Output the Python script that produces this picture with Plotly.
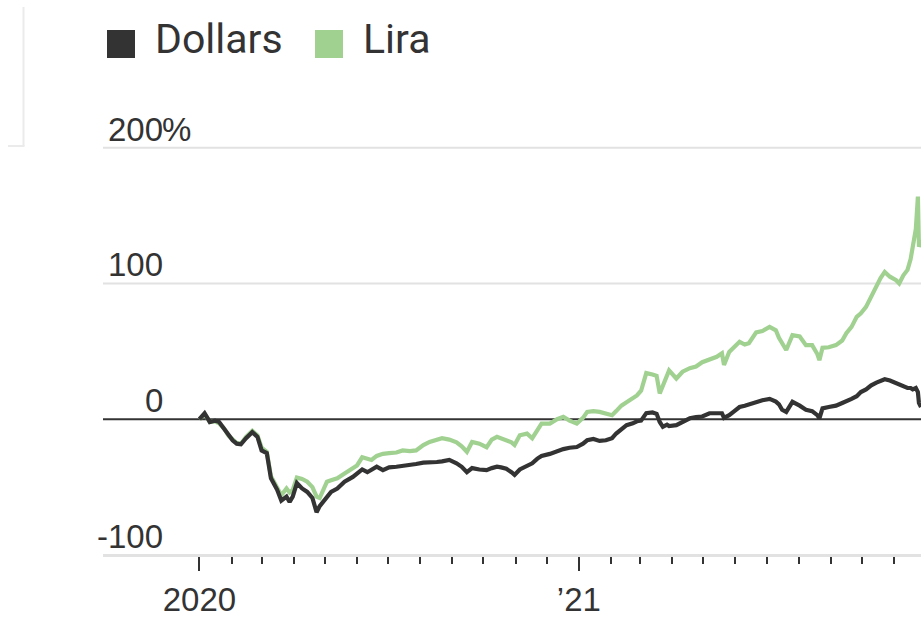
import plotly.graph_objects as go
import pandas as pd

dates = [
    "2020-01-01", "2020-01-06", "2020-01-11", "2020-01-16", "2020-01-20", "2020-01-25", "2020-01-29",
    "2020-02-02", "2020-02-06", "2020-02-10", "2020-02-15", "2020-02-21", "2020-02-26", "2020-03-01",
    "2020-03-06", "2020-03-10", "2020-03-16", "2020-03-20", "2020-03-25", "2020-03-28", "2020-03-31",
    "2020-04-04", "2020-04-09", "2020-04-14", "2020-04-19", "2020-04-23", "2020-04-26", "2020-04-28",
    "2020-05-03", "2020-05-07", "2020-05-13", "2020-05-20", "2020-05-28", "2020-06-01", "2020-06-06",
    "2020-06-11", "2020-06-15", "2020-06-20", "2020-06-26", "2020-07-02", "2020-07-09", "2020-07-15",
    "2020-07-22", "2020-07-28", "2020-08-04", "2020-08-10", "2020-08-17", "2020-08-22", "2020-08-29",
    "2020-09-05", "2020-09-10", "2020-09-15", "2020-09-20", "2020-09-27", "2020-10-04", "2020-10-09",
    "2020-10-14", "2020-10-18", "2020-10-23", "2020-10-28", "2020-10-31", "2020-11-05", "2020-11-12",
    "2020-11-17", "2020-11-22", "2020-11-26", "2020-12-04", "2020-12-11", "2020-12-17", "2020-12-23",
    "2020-12-30",
    "2021-01-05", "2021-01-09", "2021-01-15", "2021-01-21", "2021-01-27", "2021-02-02", "2021-02-06",
    "2021-02-11", "2021-02-16", "2021-02-22", "2021-02-26", "2021-03-02", "2021-03-07", "2021-03-13",
    "2021-03-17", "2021-03-20", "2021-03-23", "2021-03-27", "2021-03-29", "2021-04-05", "2021-04-11",
    "2021-04-18", "2021-04-24", "2021-04-30", "2021-05-07", "2021-05-14", "2021-05-19", "2021-05-21",
    "2021-05-26", "2021-05-31", "2021-06-05", "2021-06-10", "2021-06-14", "2021-06-21", "2021-06-27",
    "2021-07-04", "2021-07-10", "2021-07-13", "2021-07-16", "2021-07-20", "2021-07-26", "2021-08-02",
    "2021-08-08", "2021-08-14", "2021-08-19", "2021-08-21", "2021-08-24", "2021-08-30", "2021-09-06",
    "2021-09-12", "2021-09-16", "2021-09-21", "2021-09-26", "2021-09-30", "2021-10-05", "2021-10-10",
    "2021-10-15", "2021-10-19", "2021-10-23", "2021-10-28", "2021-11-03", "2021-11-06", "2021-11-10",
    "2021-11-14", "2021-11-17", "2021-11-19", "2021-11-22", "2021-11-24", "2021-11-25", "2021-11-27",
]

dollars = [
    0, 4.4, -2, -1, -2, -7, -12,
    -15.5, -18, -18.5, -14, -9.5, -13, -23,
    -25, -43.5, -52, -60, -57, -61, -57,
    -47, -51, -53.5, -58, -68.5, -64, -62,
    -57, -53.5, -51, -46, -42.5, -40, -37,
    -39, -37, -35, -37.5, -35.5, -35, -34.5,
    -34, -33, -32, -32, -31.5, -31, -30,
    -32.5, -35, -39, -36, -37, -37.5, -36,
    -35, -35.5, -36.5, -39, -41, -37, -34,
    -32.5, -29, -27, -25.5, -23.5, -22, -21,
    -20.5,
    -18, -15.5, -14.5, -16, -15.5, -14, -10.5,
    -7, -4.4, -3, -1.5, -1, 4.5, 5,
    4, -2, -5.6, -4, -5, -4.4, -2,
    0.7, 1.5, 2, 4.4, 4.4, 4.4, 1,
    3, 6, 9, 10, 11, 12.8, 14,
    15, 13, 11, 7, 5.4, 12.8, 10,
    7, 6, 3, 0.7, 8, 9, 10,
    12, 13, 15, 17, 20, 22, 25,
    27, 28.5, 29.5, 28.5, 26.5, 25, 24,
    23, 23, 22, 23, 20, 12, 9,
]

lira = [
    0, 4, -2, -1.5, -3, -7, -12,
    -15, -17.5, -18, -13, -8.5, -12, -21,
    -24, -42, -50, -56, -51, -54, -52,
    -43, -44, -46, -50, -57, -58, -54,
    -46, -45, -43.5, -40, -35.5, -34, -28,
    -29.5, -30, -27, -25.5, -25, -24.5, -23,
    -23.5, -23, -19, -16.7, -15, -14, -15,
    -17, -20, -24, -16.7, -18, -20.6, -15,
    -13, -14, -15.5, -17, -19, -11.8, -10.6,
    -14, -8, -3.2, -3.2, 0, 1.7, -1,
    -3.2,
    1, 5.4, 6, 5.4, 4, 3, 6,
    10, 12.5, 15.5, 17.5, 21, 34, 33,
    32, 19, 25, 32, 36, 30, 35,
    37.6, 38.8, 42, 44, 46, 48.6, 40,
    49.6, 53, 57, 55, 56, 64, 65,
    68, 65.5, 60, 56, 51, 62, 61,
    54.6, 54.6, 48, 43.5, 52.6, 53, 54.6,
    58, 63.4, 68, 75.4, 78, 82.8, 90,
    98.7, 104, 108.5, 105, 102.4, 100, 106,
    110, 118, 127, 140, 164, 127, 132,
]

y_ticks = [200, 100, 0, -100]
y_tick_text = ["200", "100", "0", "-100"]
x_tick_vals = ["2020-01-01", "2021-01-01"]
x_tick_text = ["2020", "\u201921"]
month_ticks = [d.strftime("%Y-%m-%d") for d in pd.date_range("2020-02-01", "2021-11-01", freq="MS")]

DARK = "#333333"
GREEN = "#a0d191"
TEXT = "#333333"
FONT = "Liberation Sans, Arial, sans-serif"

# pixel layout helpers
W, H = 921, 617
L, R, T, B = 103, 0, 145, 62
PW = W - L - R
PH = H - T - B


def px_x(px):
    return (px - L) / PW


def px_y(py):
    return (H - B - py) / PH


fig = go.Figure()
fig.add_trace(go.Scatter(x=dates, y=lira, mode="lines", name="Lira",
                         line=dict(color=GREEN, width=4.2), hoverinfo="skip"))
fig.add_trace(go.Scatter(x=dates, y=dollars, mode="lines", name="Dollars",
                         line=dict(color=DARK, width=4.2), hoverinfo="skip"))

shapes = []
for v in y_ticks:
    if v == 0:
        continue
    shapes.append(dict(type="line", xref="paper", yref="y", x0=0, x1=1, y0=v, y1=v,
                       line=dict(color="#e2e2e2", width=2), layer="below"))
shapes.append(dict(type="line", xref="paper", yref="y", x0=0, x1=1, y0=0, y1=0,
                   line=dict(color="#333333", width=2), layer="below"))
# stray frame lines at top-left
shapes.append(dict(type="line", xref="paper", yref="paper", x0=px_x(23.5), x1=px_x(23.5),
                   y0=px_y(7), y1=px_y(146), line=dict(color="#ebebeb", width=2)))
shapes.append(dict(type="line", xref="paper", yref="paper", x0=px_x(8), x1=px_x(24.5),
                   y0=px_y(146), y1=px_y(146), line=dict(color="#ebebeb", width=2)))
# legend squares
for (x0, x1, col) in [(107, 135, DARK), (315, 343, GREEN)]:
    shapes.append(dict(type="rect", xref="paper", yref="paper", x0=px_x(x0), x1=px_x(x1),
                       y0=px_y(58), y1=px_y(30), fillcolor=col, line=dict(width=0)))

annotations = []
for (txt, x0) in [("Dollars", 153), ("Lira", 361)]:
    annotations.append(dict(text=txt, xref="paper", yref="paper", x=px_x(x0), y=px_y(39),
                            xanchor="left", yanchor="middle", showarrow=False,
                            font=dict(family="Roboto, sans-serif", size=41, color=TEXT)))
for v, t in zip(y_ticks, y_tick_text):
    annotations.append(dict(text=t, xref="paper", yref="y", x=px_x(165), y=v,
                            xanchor="right", yanchor="bottom", yshift=-2, showarrow=False,
                            font=dict(family=FONT, size=33, color=TEXT)))
annotations.append(dict(text="%", xref="paper", yref="y", x=px_x(160), y=200,
                        xanchor="left", yanchor="bottom", yshift=-2, showarrow=False,
                        font=dict(family=FONT, size=33, color=TEXT)))

fig.update_layout(
    width=W, height=H,
    margin=dict(l=L, r=R, t=T, b=B),
    paper_bgcolor="white", plot_bgcolor="white",
    showlegend=False,
    shapes=shapes, annotations=annotations,
    xaxis=dict(
        type="date", range=["2019-09-30", "2021-11-27"],
        tickmode="array", tickvals=x_tick_vals, ticktext=x_tick_text,
        ticks="outside", ticklen=14, tickwidth=2, tickcolor="#333333",
        showline=True, linecolor="#e2e2e2", linewidth=2,
        showgrid=False, zeroline=False,
        tickfont=dict(family=FONT, size=33, color=TEXT),
        minor=dict(tickmode="array", tickvals=month_ticks, ticks="outside",
                   ticklen=7, tickwidth=2, tickcolor="#333333", showgrid=False),
    ),
    yaxis=dict(
        range=[-100, 202], showgrid=False, zeroline=False, showticklabels=False,
        ticks="", showline=False, fixedrange=True,
    ),
)

fig.write_html("out.html", config={"displayModeBar": False},
               post_script="document.body.style.margin='0';document.body.style.overflow='hidden';")
